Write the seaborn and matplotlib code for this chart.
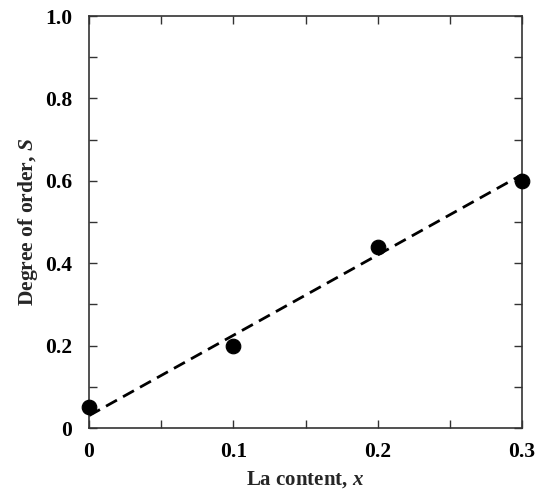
import matplotlib
matplotlib.use("Agg")
import matplotlib.pyplot as plt
import seaborn as sns
import pandas as pd
from matplotlib.ticker import MultipleLocator

# --- Data ---
la_content = [0.0, 0.1, 0.2, 0.3]
degree_order = [0.05, 0.20, 0.44, 0.60]
fit_x = [0.0, 0.3]
fit_y = [0.03, 0.615]

df = pd.DataFrame({'x': la_content, 'S': degree_order})
fit = pd.DataFrame({'x': fit_x, 'S': fit_y})

sns.set_style("ticks")
plt.rcParams['font.family'] = ['Liberation Serif', 'DejaVu Serif']
plt.rcParams['font.weight'] = 'bold'
plt.rcParams['mathtext.fontset'] = 'custom'
plt.rcParams['mathtext.it'] = 'Liberation Serif:italic:bold'

fig = plt.figure(figsize=(5.35, 4.91), dpi=100)
ax = fig.add_axes([0.1664, 0.1283, 0.8093, 0.8391])

sns.lineplot(data=fit, x='x', y='S', ax=ax, color='black', linestyle=(0, (4.5, 2.5)),
             linewidth=2, zorder=2)
sns.scatterplot(data=df, x='x', y='S', ax=ax, color='black', s=110, edgecolor='black',
                zorder=3, clip_on=False)

ax.set_xlim(0, 0.3)
ax.set_ylim(0, 1.0)
ax.xaxis.set_minor_locator(MultipleLocator(0.05))
ax.yaxis.set_minor_locator(MultipleLocator(0.1))
ax.set_xticks([0, 0.1, 0.2, 0.3])
ax.set_xticklabels(['0', '0.1', '0.2', '0.3'])
ax.set_yticks([0, 0.2, 0.4, 0.6, 0.8, 1.0])
ax.set_yticklabels(['0', '0.2', '0.4', '0.6', '0.8', '1.0'])

ax.tick_params(which='both', direction='in', top=True, right=True, width=1, colors='#333333',
               labelcolor='black', labelsize=15.5, length=6)
ax.tick_params(axis='x', pad=10)
ax.tick_params(axis='y', pad=12)
for sp in ax.spines.values():
    sp.set_linewidth(1.2)
    sp.set_color('#333333')

ax.set_xlabel('La content, $\\mathit{x}$', fontsize=15, fontweight='bold', labelpad=5)
ax.set_ylabel('Degree of order, $\\mathit{S}$', fontsize=15.5, fontweight='bold', labelpad=4)

plt.savefig('out.png', dpi=100)
